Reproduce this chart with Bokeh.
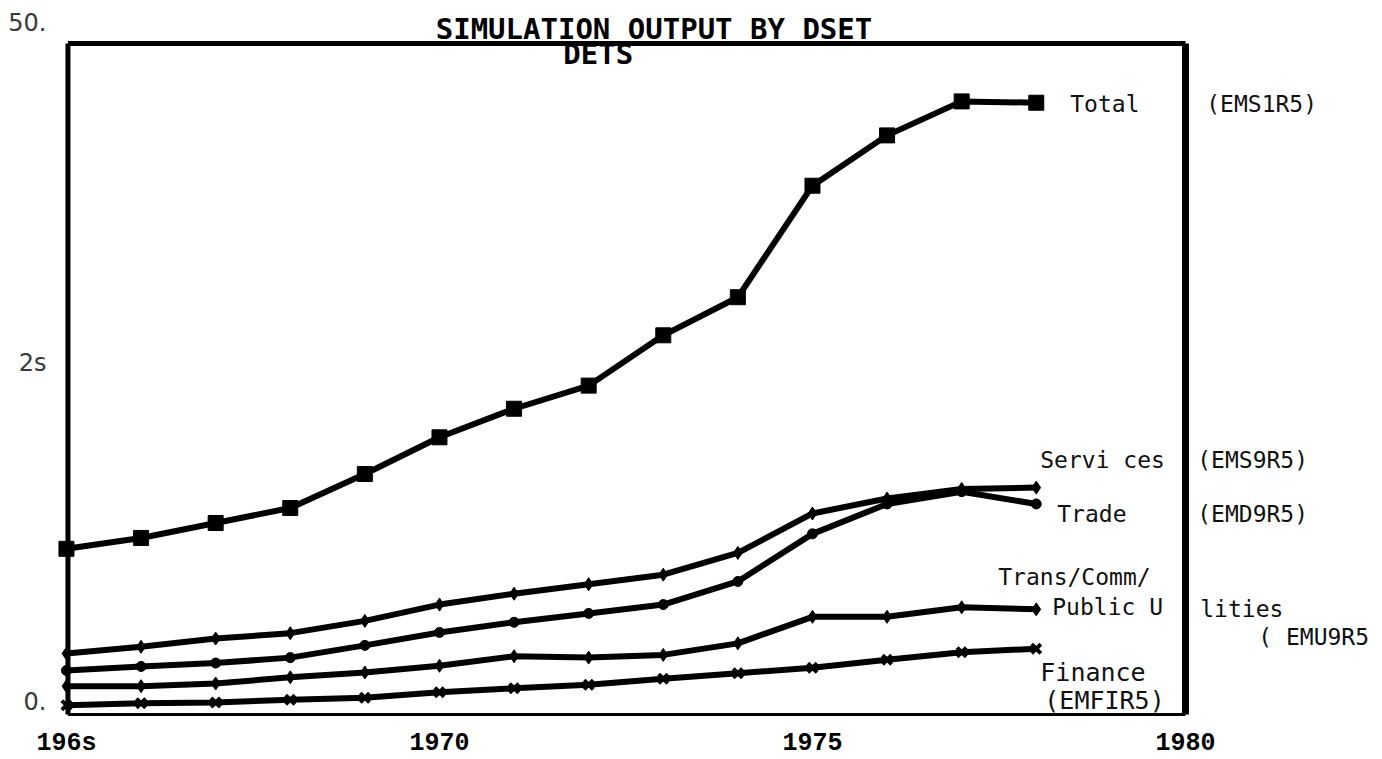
from bokeh.plotting import figure
from bokeh.models import Range1d, FixedTicker
from bokeh.core.properties import value
from bokeh.embed import file_html
from bokeh.resources import INLINE

# ---- data ----
years = list(range(1965, 1979))
total = [11.3, 12.1, 13.2, 14.3, 16.8, 19.5, 21.6, 23.3, 27.0, 29.8, 38.0, 41.7, 44.2, 44.1]
services = [3.6, 4.1, 4.7, 5.1, 6.0, 7.2, 8.0, 8.7, 9.4, 11.0, 13.9, 15.0, 15.7, 15.8]
trade = [2.35, 2.65, 2.9, 3.3, 4.2, 5.15, 5.9, 6.55, 7.2, 8.9, 12.4, 14.6, 15.5, 14.6]
tcu = [1.2, 1.2, 1.4, 1.85, 2.2, 2.7, 3.4, 3.3, 3.5, 4.35, 6.3, 6.3, 7.0, 6.85]
finance = [-0.2, -0.05, 0.0, 0.2, 0.35, 0.75, 1.05, 1.3, 1.75, 2.15, 2.55, 3.15, 3.7, 3.95]

x_ticks = [1965, 1970, 1975, 1980]
x_tick_labels = ["196s", "1970", "1975", "1980"]
y_ticks = [0, 25, 50]
y_tick_labels = ["0.", "2s", "50."]

title_line1 = "SIMULATION OUTPUT BY DSET"
title_line2 = "DETS"

# ---- figure (frame size fixed so the scales are deterministic) ----
p = figure(frame_width=1332, frame_height=717, output_backend="svg", toolbar_location=None,
           x_range=Range1d(1964.786, 1982.641), y_range=Range1d(-1.103, 51.618),
           min_border_left=50, min_border_right=0, min_border_top=0, min_border_bottom=42)
p.outline_line_color = None
p.grid.visible = False
p.background_fill_color = "white"
p.border_fill_color = "white"

# x axis
p.xaxis.ticker = FixedTicker(ticks=x_ticks)
p.xaxis.major_label_overrides = {t: l for t, l in zip(x_ticks, x_tick_labels)}
p.xaxis.axis_line_color = None
p.xaxis.major_tick_line_color = None
p.xaxis.minor_tick_line_color = None
p.xaxis.major_tick_out = 0
p.xaxis.major_tick_in = 0
p.xaxis.major_label_standoff = 11
p.xaxis.major_label_text_font = "Liberation Mono"
p.xaxis.major_label_text_font_style = "bold"
p.xaxis.major_label_text_font_size = "25px"
p.xaxis.major_label_text_color = "black"

# y axis
p.yaxis.ticker = FixedTicker(ticks=y_ticks)
p.yaxis.major_label_overrides = {t: l for t, l in zip(y_ticks, y_tick_labels)}
p.yaxis.axis_line_color = None
p.yaxis.major_tick_line_color = None
p.yaxis.minor_tick_line_color = None
p.yaxis.major_tick_out = 0
p.yaxis.major_tick_in = 0
p.yaxis.major_label_standoff = 4
p.yaxis.major_label_text_font = "DejaVu Sans"
p.yaxis.major_label_text_font_size = "24px"
p.yaxis.major_label_text_color = "#3a3a3a"

# ---- plot frame (drawn in data space) ----
X0, X1 = 1965.02, 1980
YB, YT = -0.88, 48.46
p.line([X0, X1], [YT, YT], line_width=5, color="black")
p.line([X0, X0], [YB, YT], line_width=5, color="black")
p.line([X1, X1], [YB, YT], line_width=7, color="black")
p.line([X0, X1], [YB, YB], line_width=3, color="black")

# ---- series ----
series = [
    (total, "square", 15, 1),
    (services, "diamond", 13, 1),
    (trade, "circle", 10, 1),
    (tcu, "diamond", 13, 1),
    (finance, "x", 13, 4),
]
for vals, mk, sz, lw in series:
    p.line(years, vals, line_width=6, color="black", line_join="round")
    p.scatter(years, vals, marker=mk, size=sz, color="black", line_width=lw)

# ---- labels anchored at series ends ----
lab_font = value("DejaVu Sans Mono")
def lab(vals, txt, dx, dy, size="23px"):
    p.text(x=[years[-1]], y=[vals[-1]], text=[txt], x_offset=dx, y_offset=dy,
           text_font=lab_font, text_font_size=size, text_color="#111111",
           text_baseline="middle", text_align="left")

lab(total, "Total", 34, 1)
lab(total, "(EMS1R5)", 170, 1)
lab(services, "Servi ces", 4, -28)
lab(services, "(EMS9R5)", 161, -28)
lab(trade, "Trade", 21, 10)
lab(trade, "(EMD9R5)", 161, 10)
lab(tcu, "Trans/Comm/", -38, -32)
lab(tcu, "Public U", 16, -2)
lab(tcu, "lities", 164, 0)
lab(tcu, "( EMU9R5", 222, 28)
lab(finance, "Finance", 4, 24, "25px")
lab(finance, "(EMFIR5)", 8, 52, "25px")

# ---- title ----
p.text(x=[1969.95], y=[49.49], text=[title_line1], text_font=value("DejaVu Sans Mono"),
       text_font_style="bold", text_font_size="29px", text_color="black",
       text_baseline="middle", text_align="left")
p.text(x=[1971.66], y=[47.72], text=[title_line2], text_font=value("DejaVu Sans Mono"),
       text_font_style="bold", text_font_size="29px", text_color="black",
       text_baseline="middle", text_align="left")

open("out.html", "w").write(file_html(p, INLINE))
